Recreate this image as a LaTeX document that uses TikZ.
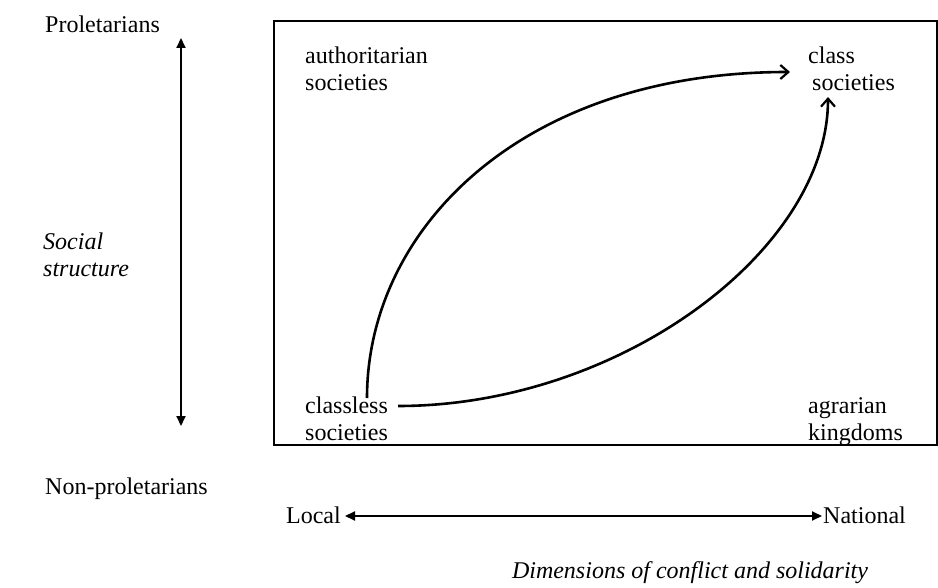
\documentclass[tikz,border=0pt]{standalone}
\usepackage{fontspec}
\setmainfont{Liberation Serif}
\usetikzlibrary{arrows.meta}
\begin{document}
\begin{tikzpicture}[x=1pt,y=-1pt,
  lbl/.style={inner sep=0pt,anchor=base west,align=left,font=\fontsize{24}{27}\selectfont},
  ilbl/.style={lbl,font=\fontsize{24}{27}\selectfont\itshape},
  axis/.style={line width=2pt,{Triangle[length=10pt,width=9pt]}-{Triangle[length=10pt,width=9pt]}},
  path/.style={line width=2.6pt,-{Straight Barb[length=8pt,width=14pt,line width=2.2pt]}}]
\useasboundingbox (0,0) rectangle (938,588);
\node[draw,line width=2pt,minimum width=663pt,minimum height=424pt,anchor=north west,inner sep=0pt] (box) at (273,20) {};
\node[lbl] (prol) at (45,33) {Proletarians};
\node[lbl] (nonp) at (45,494) {Non-proletarians};
\node[ilbl] (soc) at (43,277) {Social\\structure};
\coordinate (vtop) at (181,38);
\coordinate (vbot) at (181,426);
\draw[axis] (vtop) -- (vbot);
\node[lbl] (auth) at (305,91) {authoritarian\\societies};
\node[lbl] (cls) at (808,91) {class\\\hspace{4pt}societies};
\node[lbl] (cll) at (305,440) {classless\\societies};
\node[lbl] (agr) at (808,440) {agrarian\\kingdoms};
\node[lbl,anchor=base east] (loc) at (341,523) {Local};
\node[lbl] (nat) at (823,523) {National};
\path (loc.base east) ++(4,-7) coordinate (hl) (nat.base west) ++(-1,-7) coordinate (hr);
\draw[axis] (hl) -- (hr);
\node[ilbl,anchor=base] (dim) at (690,578) {Dimensions of conflict and solidarity};
\coordinate (c1s) at (367,398);
\coordinate (c1e) at (790,72);
\coordinate (c2s) at (398,406);
\coordinate (c2e) at (828,97);
\draw[path] (c1s) .. controls (367,230) and (520,72) .. (c1e);
\draw[path] (c2s) .. controls (620,406) and (828,250) .. (c2e);
\end{tikzpicture}
\end{document}
